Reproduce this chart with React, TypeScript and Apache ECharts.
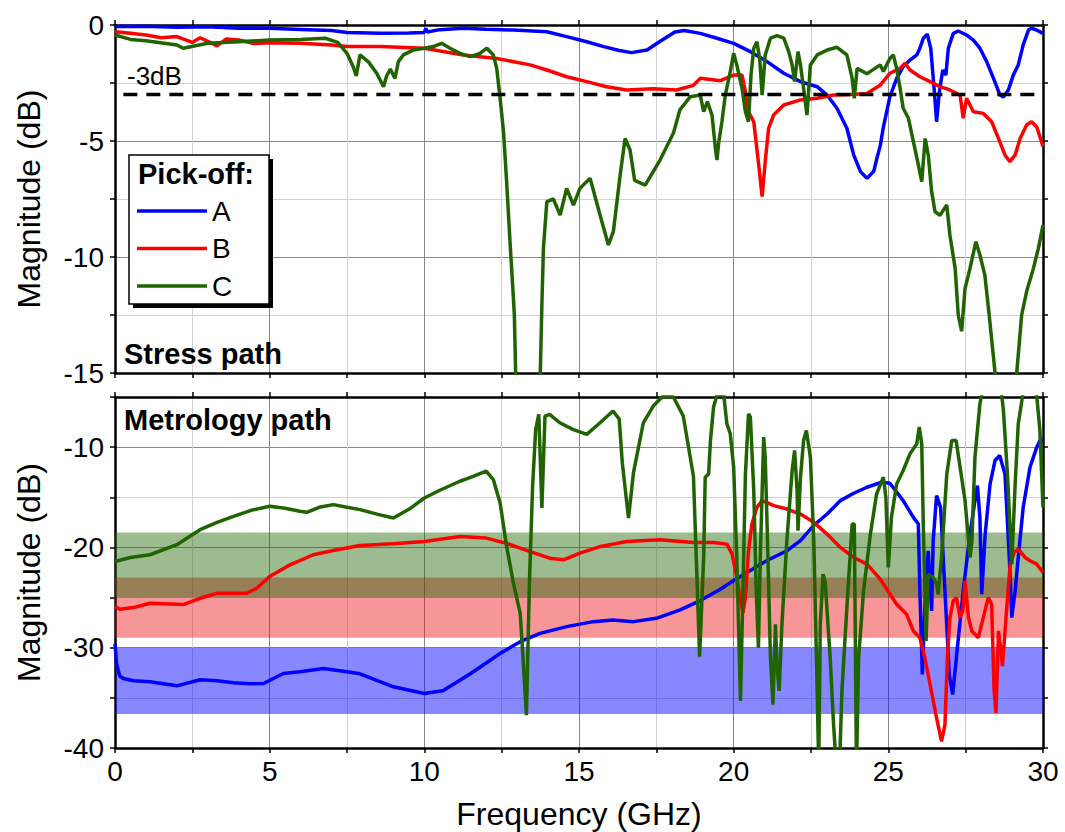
import React, { useEffect, useRef } from 'react';
import * as echarts from 'echarts';

const FONT = '"Liberation Sans", Arial, sans-serif';

// Series names
const seriesNames = ['A', 'B', 'C'];
const seriesColors = ['#0000ff', '#ff0000', '#1f6400'];

// Axis settings (tick labels)
const freqMin = 0;
const freqMax = 30;
const freqStep = 2.5;
const stressMin = -15;
const stressMax = 0;
const metroMin = -40;
const metroMax = -5;
const threshold = -3;

// ---- Stress path (top panel) ----
const stressA: [number, number][] = [
  [0, -0.07], [1, -0.05], [2, -0.1], [3, -0.08], [4, -0.14], [5, -0.14], [6, -0.19], [7, -0.24], [7.5, -0.32],
  [8.57, -0.36], [9.5, -0.34], [10, -0.32], [10.05, -0.15], [10.1, -0.3], [10.5, -0.2], [11.26, -0.14], [12, -0.18],
  [12.88, -0.22], [13.96, -0.29], [14.6, -0.5], [15.25, -0.72], [15.8, -0.93], [16.3, -1.1], [16.7, -1.19],
  [17.2, -1.08], [17.6, -0.72], [18.1, -0.3], [18.4, -0.24], [18.92, -0.36], [19.46, -0.57], [20, -0.79],
  [20.54, -1.15], [21.08, -1.58], [21.62, -2.08], [22.16, -2.44], [22.7, -2.66], [23.02, -3.02], [23.34, -3.59],
  [23.66, -4.45], [23.88, -5.6], [24.1, -6.32], [24.31, -6.61], [24.53, -6.3], [24.62, -5.8], [24.74, -5.2],
  [24.84, -4.4], [25.05, -3.1], [25.27, -2.3], [25.48, -1.8], [25.7, -1.51], [25.92, -1.29], [26.02, -1.0],
  [26.13, -0.57], [26.26, -0.4], [26.37, -1.0], [26.48, -2.73], [26.56, -4.17], [26.65, -2.87], [26.76, -1.94],
  [26.86, -2.16], [26.94, -1.0], [27.1, -0.36], [27.26, -0.26], [27.53, -0.43], [27.75, -0.65], [27.96, -1.0],
  [28.18, -1.58], [28.4, -2.3], [28.61, -3.02], [28.72, -3.1], [28.88, -2.8], [29.04, -2.16], [29.2, -1.72],
  [29.36, -0.86], [29.53, -0.22], [29.63, -0.14], [29.8, -0.22], [30, -0.36],
];

const stressB: [number, number][] = [
  [0, -0.29], [0.5, -0.36], [1, -0.43], [1.5, -0.55], [2, -0.5], [2.5, -0.75], [2.75, -0.55], [3, -0.7],
  [3.3, -0.9], [3.6, -0.6], [4, -0.65], [4.5, -0.8], [5, -0.76], [6, -0.79], [7, -0.86], [7.5, -0.93],
  [8.57, -0.93], [10, -1.0], [11.26, -1.29], [12.34, -1.44], [13.42, -1.72], [13.96, -1.94], [14.6, -2.23],
  [15.25, -2.44], [15.89, -2.66], [16.54, -2.8], [17.4, -2.75], [18.15, -2.8], [18.7, -2.6], [18.92, -2.3],
  [19.57, -2.4], [20, -2.16], [20.27, -2.16], [20.38, -2.87], [20.48, -3.74], [20.65, -4.17], [20.81, -6.03],
  [20.92, -7.4], [21.02, -5.89], [21.13, -4.45], [21.29, -3.88], [21.62, -3.45], [22.16, -3.23], [22.7, -3.16],
  [23.23, -3.02], [23.77, -3.0], [24.31, -2.95], [24.73, -2.6], [25.05, -2.08], [25.38, -1.87], [25.54, -1.65],
  [25.7, -1.94], [26.02, -2.23], [26.35, -2.44], [26.67, -2.66], [26.99, -2.8], [27.32, -3.02], [27.42, -4.02],
  [27.53, -3.16], [27.75, -3.74], [28.07, -3.81], [28.34, -4.17], [28.56, -4.89], [28.77, -5.6], [28.93, -5.89],
  [29.1, -5.6], [29.26, -4.89], [29.47, -4.31], [29.63, -4.17], [29.8, -4.4], [30, -5.24],
];

const stressC: [number, number][] = [
  [0, -0.43], [0.5, -0.62], [1, -0.68], [2, -0.86], [2.2, -1.0], [3, -0.79], [4, -0.72], [5, -0.65], [6, -0.62],
  [6.8, -0.57], [7.2, -0.75], [7.5, -1.22], [7.7, -1.8], [7.8, -2.2], [7.92, -1.29], [8.2, -1.6], [8.46, -2.08],
  [8.68, -2.66], [8.78, -2.2], [8.9, -1.9], [9.05, -2.3], [9.16, -1.58], [9.32, -1.29], [9.64, -1.08], [10, -1.0],
  [10.29, -0.93], [10.56, -0.79], [10.83, -1.0], [11.15, -1.22], [11.48, -1.36], [11.8, -1.22], [12.02, -1.0],
  [12.23, -1.29], [12.34, -1.87], [12.45, -3.16], [12.56, -4.6], [12.66, -6.75], [12.77, -9.34], [12.88, -11.78],
  [12.91, -12.5], [12.96, -15.5], [13.0, -17], [13.7, -17], [13.74, -15.5], [13.8, -12.07], [13.85, -9.63],
  [13.96, -7.61], [14.17, -7.5], [14.39, -8.19], [14.6, -7.04], [14.82, -7.76], [15.03, -7.04], [15.36, -6.61],
  [15.68, -8.19], [15.95, -9.48], [16.11, -8.91], [16.33, -6.47], [16.49, -4.89], [16.65, -5.39], [16.8, -6.7],
  [17.14, -6.9], [17.62, -5.82], [18.05, -4.67], [18.26, -3.66], [18.6, -3.09], [18.92, -3.02], [19.03, -3.74],
  [19.15, -3.3], [19.3, -3.88], [19.41, -5.32], [19.46, -5.82], [19.52, -5.03], [19.62, -4.17], [19.73, -3.02],
  [19.89, -2.01], [20, -1.22], [20.1, -1.72], [20.27, -2.73], [20.38, -3.74], [20.48, -4.17], [20.56, -2.16],
  [20.65, -1.0], [20.75, -0.72], [20.84, -1.44], [20.92, -3.02], [21.02, -1.29], [21.19, -0.57], [21.4, -0.46],
  [21.62, -0.57], [21.78, -1.15], [21.89, -1.72], [21.97, -2.44], [22.08, -1.15], [22.16, -1.72], [22.26, -2.73],
  [22.37, -3.88], [22.48, -1.72], [22.7, -1.29], [23.02, -1.08], [23.34, -0.96], [23.66, -1.29], [23.83, -2.3],
  [23.9, -3.16], [23.99, -1.87], [24.31, -2.1], [24.41, -2.01], [24.74, -1.72], [24.84, -2.0], [25.05, -1.44],
  [25.16, -1.29], [25.27, -1.87], [25.38, -2.73], [25.48, -3.59], [25.65, -4.02], [25.81, -5.03], [25.97, -6.03],
  [26.08, -6.75], [26.19, -4.89], [26.29, -5.6], [26.4, -7.18], [26.51, -8.05], [26.67, -8.2], [26.89, -7.76],
  [26.99, -9.05], [27.16, -10.49], [27.26, -12.5], [27.37, -13.2], [27.48, -11.35], [27.64, -10.49], [27.83, -9.34],
  [27.96, -9.91], [28.12, -10.78], [28.26, -12.5], [28.37, -13.94], [28.45, -15.0], [28.5, -17], [29.1, -17],
  [29.15, -15.0], [29.31, -12.5], [29.47, -11.49], [29.69, -10.49], [29.85, -9.63], [30, -8.62],
];

// ---- Metrology path (bottom panel) ----
const metroA: [number, number][] = [
  [0, -29.6], [0.05, -31.6], [0.15, -32.8], [0.27, -33.07], [0.6, -33.3], [1.13, -33.4], [2, -33.8], [2.75, -33.2],
  [3.3, -33.3], [3.83, -33.5], [4.36, -33.6], [4.8, -33.57], [5.44, -32.57], [5.98, -32.4], [6.73, -32.07],
  [7.5, -32.4], [7.92, -32.6], [9, -33.9], [10, -34.57], [10.6, -34.3], [11.5, -32.57], [12.45, -30.57],
  [13.1, -29.4], [13.74, -28.57], [14.6, -27.9], [15.46, -27.4], [16.1, -27.23], [16.76, -27.4], [17.5, -27.07],
  [18.27, -26.23], [18.92, -25.3], [19.56, -24.2], [20, -23.3], [21.08, -21.3], [21.72, -20.33], [22.16, -19.33],
  [22.59, -17.8], [23.02, -16.67], [23.45, -15.33], [23.88, -14.6], [24.31, -14.0], [24.78, -13.5], [25.05, -13.6],
  [25.48, -15.33], [25.81, -17.0], [25.97, -17.67], [26.02, -24.33], [26.1, -32.67], [26.18, -26.0],
  [26.29, -20.33], [26.4, -26.33], [26.45, -19.33], [26.56, -14.83], [26.69, -16.0], [26.83, -24.33],
  [26.97, -32.67], [27.08, -34.67], [27.2, -31.0], [27.42, -24.33], [27.64, -18.67], [27.8, -15.33],
  [27.88, -13.83], [27.96, -17.0], [28.02, -24.67], [28.13, -18.67], [28.29, -13.67], [28.45, -11.33],
  [28.6, -10.83], [28.77, -12.67], [28.91, -21.0], [28.99, -27.0], [29.1, -24.33], [29.2, -21.0], [29.36, -16.0],
  [29.58, -12.0], [29.8, -10.0], [29.9, -9.33], [30, -9.33],
];

const metroB: [number, number][] = [
  [0, -25.9], [0.16, -26.17], [0.6, -26.0], [1.13, -25.57], [2.2, -25.7], [2.75, -25.07], [3.3, -24.57],
  [4.26, -24.57], [4.58, -24.07], [5.0, -22.9], [5.66, -21.73], [6.41, -20.73], [7.06, -20.3], [7.92, -19.8],
  [9, -19.63], [10, -19.4], [11.15, -18.9], [12.0, -19.07], [12.66, -19.6], [13.4, -20.4], [14.05, -21.07],
  [14.5, -21.23], [15.03, -20.57], [15.7, -19.9], [16.55, -19.4], [17.62, -19.23], [18.7, -19.5], [19.35, -19.5],
  [19.78, -19.67], [19.95, -20.67], [20.1, -23.0], [20.22, -25.33], [20.3, -26.5], [20.38, -25.0], [20.48, -20.33],
  [20.59, -17.67], [20.75, -16.0], [20.92, -15.33], [21.3, -15.83], [21.72, -16.17], [22.16, -16.67],
  [22.59, -17.5], [23.02, -18.67], [23.45, -20.0], [23.88, -21.0], [24.31, -21.67], [24.74, -23.17],
  [25.27, -25.67], [25.59, -26.67], [25.81, -28.33], [26.02, -29.0], [26.18, -31.0], [26.35, -33.67],
  [26.56, -37.0], [26.72, -39.33], [26.83, -37.67], [26.91, -31.0], [26.99, -27.0], [27.1, -25.33], [27.2, -25.0],
  [27.32, -27.0], [27.41, -26.3], [27.48, -23.33], [27.59, -27.0], [27.7, -28.33], [27.91, -29.0], [28.07, -27.0],
  [28.23, -25.0], [28.34, -25.67], [28.42, -34.33], [28.48, -36.5], [28.56, -28.33], [28.63, -30.0],
  [28.69, -31.83], [28.82, -26.33], [28.94, -21.67], [29.07, -20.5], [29.2, -20.17], [29.42, -21.0],
  [29.58, -21.33], [29.8, -21.67], [30, -22.5],
];

const metroC: [number, number][] = [
  [0, -21.4], [0.5, -21.0], [1.13, -20.73], [2.0, -19.73], [2.75, -18.23], [3.3, -17.5], [3.83, -16.9],
  [4.4, -16.3], [5.0, -15.9], [5.5, -16.1], [5.98, -16.4], [6.2, -16.5], [6.6, -16.0], [7.06, -15.73], [7.5, -16.0],
  [7.92, -16.23], [8.5, -16.7], [9.0, -17.07], [9.5, -16.2], [10, -15.07], [10.5, -14.3], [11.15, -13.4],
  [11.6, -12.9], [12.0, -12.4], [12.23, -13.23], [12.45, -15.57], [12.66, -19.9], [12.88, -23.57], [13.1, -26.57],
  [13.2, -31.57], [13.3, -36.73], [13.4, -23.23], [13.5, -13.9], [13.6, -8.23], [13.7, -6.73], [13.8, -16.07],
  [13.9, -6.9], [14.05, -6.73], [14.38, -7.57], [14.8, -8.23], [15.25, -8.73], [15.68, -7.57], [16.1, -6.4],
  [16.3, -7.2], [16.4, -11.57], [16.6, -17.07], [16.76, -12.57], [17.08, -7.57], [17.4, -5.9], [17.72, -4.9],
  [18.05, -5.0], [18.37, -6.9], [18.7, -12.9], [18.9, -30.9], [19.03, -21.0], [19.08, -13.0], [19.19, -12.67],
  [19.25, -9.33], [19.35, -6.0], [19.46, -4.8], [19.68, -4.8], [19.78, -7.67], [19.89, -8.67], [20.0, -12.0],
  [20.1, -21.0], [20.22, -35.3], [20.3, -24.3], [20.38, -12.67], [20.48, -6.67], [20.54, -7.0], [20.65, -14.33],
  [20.73, -24.3], [20.8, -30.0], [20.86, -21.0], [20.97, -9.0], [21.02, -11.0], [21.08, -17.67], [21.19, -31.0],
  [21.27, -35.67], [21.35, -27.67], [21.4, -31.67], [21.47, -34.3], [21.56, -27.67], [21.72, -19.33],
  [21.89, -12.33], [21.97, -10.33], [22.05, -14.33], [22.08, -18.33], [22.16, -13.0], [22.26, -9.33],
  [22.35, -8.33], [22.48, -11.0], [22.59, -19.33], [22.7, -34.3], [22.75, -42], [22.8, -27.67], [22.89, -22.67],
  [22.96, -23.5], [23.12, -31.0], [23.23, -37.67], [23.32, -42], [23.42, -42], [23.5, -34.3], [23.66, -26.0],
  [23.83, -17.67], [23.9, -17.67], [23.97, -42], [24.04, -31.0], [24.2, -24.3], [24.42, -18.67], [24.62, -14.67],
  [24.84, -13.0], [24.92, -15.0], [25.0, -22.0], [25.1, -17.0], [25.27, -13.67], [25.48, -12.33], [25.7, -10.67],
  [25.92, -9.67], [26.0, -8.0], [26.08, -9.67], [26.13, -17.67], [26.22, -29.33], [26.29, -22.67], [26.45, -23.0],
  [26.56, -23.67], [26.61, -24.67], [26.72, -21.0], [26.89, -12.67], [27.05, -9.33], [27.19, -9.33],
  [27.32, -12.0], [27.48, -15.33], [27.64, -21.0], [27.7, -19.5], [27.8, -11.0], [27.96, -5.67], [28.07, -4.0],
  [28.18, -3.0], [28.6, -3.0], [28.72, -6.33], [28.85, -12.67], [28.99, -21.67], [29.1, -13.67], [29.2, -7.67],
  [29.36, -4.5], [29.5, -3.5], [29.7, -3.5], [29.8, -5.0], [29.9, -8.33], [30, -16.0],
];

// Shaded target bands in the metrology panel: [upper, lower] in dB
const bandA: [number, number] = [-30, -36.6];
const bandB: [number, number] = [-23, -29];
const bandC: [number, number] = [-18.5, -25];

const gridColors = ['#8a8a8a', '#d2d2d2'];

function xAxisDef(grid: number, pos: 'top' | 'bottom', labels: boolean, split: boolean, name?: string) {
  return {
    type: 'value',
    gridIndex: grid,
    position: pos,
    min: freqMin,
    max: freqMax,
    interval: freqStep,
    name: name,
    nameLocation: 'middle',
    nameGap: 50,
    nameTextStyle: { fontFamily: FONT, fontSize: 32, color: '#000' },
    axisLine: { show: true, onZero: false, lineStyle: { color: '#000', width: 2.5 } },
    axisTick: { show: true, inside: false, length: 5, lineStyle: { color: '#000', width: 1.5 } },
    axisLabel: {
      show: labels,
      margin: 9,
      fontFamily: FONT,
      fontSize: 28,
      color: '#000',
      formatter: (v: number) => (v % 5 === 0 ? String(v) : ''),
    },
    splitLine: { show: split, lineStyle: { color: gridColors, width: 1 } },
  };
}

function yAxisDef(grid: number, pos: 'left' | 'right', min: number, max: number, interval: number, labelStep: number, labels: boolean, split: boolean, name?: string) {
  return {
    type: 'value',
    gridIndex: grid,
    position: pos,
    min,
    max,
    interval,
    name,
    nameLocation: 'middle',
    nameGap: 70,
    nameTextStyle: { fontFamily: FONT, fontSize: 32, color: '#000' },
    axisLine: { show: true, onZero: false, lineStyle: { color: '#000', width: 2.5 } },
    axisTick: { show: true, inside: false, length: 5, lineStyle: { color: '#000', width: 1.5 } },
    axisLabel: {
      show: labels,
      margin: 11,
      fontFamily: FONT,
      fontSize: 28,
      color: '#000',
      formatter: (v: number) => (Math.abs(v % labelStep) < 1e-9 ? String(v) : ''),
    },
    splitLine: { show: split, lineStyle: { color: gridColors, width: 1 } },
  };
}

function lineSeries(name: string, data: [number, number][], color: string, axisIdx: number) {
  return {
    name,
    type: 'line',
    xAxisIndex: axisIdx,
    yAxisIndex: axisIdx,
    data,
    symbol: 'none',
    showSymbol: false,
    clip: true,
    z: 3,
    lineStyle: { color, width: 3.5 },
    itemStyle: { color },
  };
}

export default function App() {
  const ref = useRef<HTMLDivElement>(null);

  useEffect(() => {
    document.body.style.margin = '0';
    const chart = echarts.init(ref.current!, undefined, { renderer: 'svg' });

    const option: any = {
      animation: false,
      backgroundColor: '#ffffff',
      grid: [
        { left: 115, top: 25, width: 928, height: 348 },
        { left: 115, top: 397, width: 928, height: 351 },
      ],
      xAxis: [
        xAxisDef(0, 'bottom', false, true),
        xAxisDef(0, 'top', false, false),
        xAxisDef(1, 'bottom', true, true, 'Frequency (GHz)'),
        xAxisDef(1, 'top', false, false),
      ],
      yAxis: [
        yAxisDef(0, 'left', stressMin, stressMax, 2.5, 5, true, true, 'Magnitude (dB)'),
        yAxisDef(0, 'right', stressMin, stressMax, 2.5, 5, false, false),
        yAxisDef(1, 'left', metroMin, metroMax, 5, 10, true, true, 'Magnitude (dB)'),
        yAxisDef(1, 'right', metroMin, metroMax, 5, 10, false, false),
      ],
      legend: {
        data: seriesNames,
        orient: 'vertical',
        left: 137,
        top: 197,
        padding: 0,
        icon: 'rect',
        itemWidth: 70,
        itemHeight: 3.5,
        itemGap: 9.5,
        z: 10,
        textStyle: { fontFamily: FONT, fontSize: 28, color: '#000', lineHeight: 28 },
      },
      graphic: {
        elements: [
          { type: 'rect', z: 8, shape: { x: 133, y: 159, width: 140, height: 149 }, style: { fill: '#000' } },
          { type: 'rect', z: 9, shape: { x: 129, y: 155, width: 140, height: 149 }, style: { fill: '#fff', stroke: '#000', lineWidth: 1.5 } },
          { type: 'text', z: 10, x: 138, y: 174, style: { text: 'Pick-off:', fontFamily: FONT, fontSize: 29, fontWeight: 'bold', fill: '#000', verticalAlign: 'middle' } },
          { type: 'text', z: 10, x: 127, y: 76, style: { text: '-3dB', fontFamily: FONT, fontSize: 26, fill: '#000', verticalAlign: 'middle' } },
          { type: 'text', z: 10, x: 124, y: 354, style: { text: 'Stress path', fontFamily: FONT, fontSize: 29, fontWeight: 'bold', fill: '#000', verticalAlign: 'middle' } },
          { type: 'text', z: 10, x: 124, y: 420, style: { text: 'Metrology path', fontFamily: FONT, fontSize: 29, fontWeight: 'bold', fill: '#000', verticalAlign: 'middle' } },
        ],
      },
      series: [
        {
          name: 'bands',
          type: 'line',
          xAxisIndex: 2,
          yAxisIndex: 2,
          data: [[-1, -100]],
          symbol: 'none',
          silent: true,
          z: 1,
          lineStyle: { width: 0, opacity: 0 },
          markArea: {
            silent: true,
            data: [
              [{ xAxis: freqMin, yAxis: bandA[0], itemStyle: { color: 'rgba(0,0,255,0.47)' } }, { xAxis: freqMax, yAxis: bandA[1] }],
              [{ xAxis: freqMin, yAxis: bandB[0], itemStyle: { color: 'rgba(235,0,8,0.41)' } }, { xAxis: freqMax, yAxis: bandB[1] }],
              [{ xAxis: freqMin, yAxis: bandC[0], itemStyle: { color: 'rgba(30,100,0,0.44)' } }, { xAxis: freqMax, yAxis: bandC[1] }],
            ],
          },
        },
        lineSeries('A', stressA, seriesColors[0], 0),
        lineSeries('B', stressB, seriesColors[1], 0),
        lineSeries('C', stressC, seriesColors[2], 0),
        lineSeries('A', metroA, seriesColors[0], 2),
        lineSeries('B', metroB, seriesColors[1], 2),
        lineSeries('C', metroC, seriesColors[2], 2),
        {
          name: '-3dB line',
          type: 'line',
          xAxisIndex: 0,
          yAxisIndex: 0,
          data: [[0.27, threshold], [freqMax, threshold]],
          symbol: 'none',
          silent: true,
          z: 5,
          lineStyle: { color: '#000', width: 3.5, type: [14, 9] },
        },
      ],
    };

    chart.setOption(option);
    return () => chart.dispose();
  }, []);

  return <div ref={ref} style={{ width: 1065, height: 832 }} />;
}
